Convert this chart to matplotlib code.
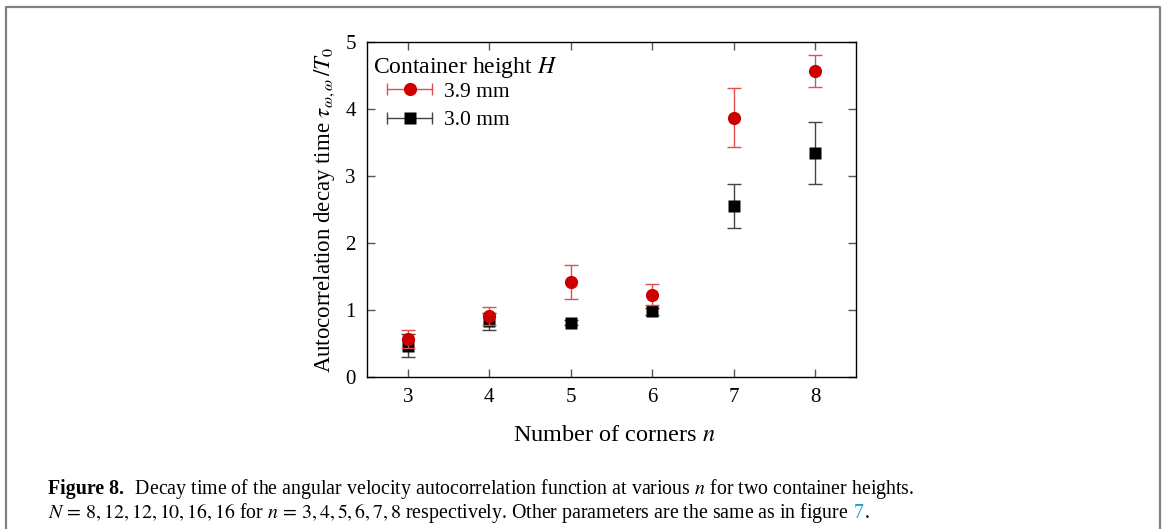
import numpy as np
import matplotlib
matplotlib.use('Agg')
import matplotlib.pyplot as plt
from matplotlib.lines import Line2D
from matplotlib.legend_handler import HandlerBase
from matplotlib.container import ErrorbarContainer

plt.rcParams['font.family'] = ['Liberation Serif', 'DejaVu Serif']
plt.rcParams['mathtext.fontset'] = 'stix'

# Number of corners
corners = [3, 4, 5, 6, 7, 8]

# Decay time tau/T0 and its error, container height 3.9 mm
tau_39 = [0.57, 0.91, 1.42, 1.23, 3.87, 4.57]
err_39 = [0.13, 0.14, 0.25, 0.16, 0.44, 0.24]

# Decay time tau/T0 and its error, container height 3.0 mm
tau_30 = [0.47, 0.83, 0.81, 0.98, 2.55, 3.34]
err_30 = [0.17, 0.13, 0.04, 0.05, 0.33, 0.46]

red = '#cc0000'
red_err = '#e05050'
black_err = '#444444'


class HorizontalErrHandler(HandlerBase):
    """Legend key drawn as a marker on a capped horizontal bar."""

    def create_artists(self, legend, orig_handle, xdescent, ydescent,
                       width, height, fontsize, trans):
        mline = orig_handle.lines[0]
        ecolor = orig_handle.lines[2][0].get_color()
        y = height / 2 - ydescent
        x0, x1 = -xdescent, width - xdescent
        bar = Line2D([x0, x1], [y, y], color=ecolor, lw=1.0)
        caps = Line2D([x0, x1], [y, y], ls='none', marker='|', ms=8,
                      mew=1.0, color=ecolor)
        mark = Line2D([(x0 + x1) / 2], [y], ls='none',
                      marker=mline.get_marker(), ms=mline.get_markersize(),
                      color=mline.get_markerfacecolor(), mec='none')
        for a in (bar, caps, mark):
            a.set_transform(trans)
        return [bar, caps, mark]


fig = plt.figure(figsize=(11.63, 5.29), dpi=100)
ax = fig.add_axes([0.3156, 0.2873, 0.4204, 0.6333])

h39 = ax.errorbar(corners, tau_39, yerr=err_39, fmt='o', color=red, ms=9.5,
                  mec='none', ecolor=red_err, elinewidth=1.0, capsize=5,
                  capthick=1.0, label='3.9 mm', zorder=3)
h30 = ax.errorbar(corners, tau_30, yerr=err_30, fmt='s', color='black', ms=8.5,
                  mec='none', ecolor=black_err, elinewidth=1.0, capsize=5,
                  capthick=1.0, label='3.0 mm', zorder=2)

ax.set_xlim(2.5, 8.5)
ax.set_ylim(0, 5)
ax.set_xticks(corners)
ax.set_yticks(np.arange(0, 6))
ax.tick_params(direction='in', length=6, width=1.0, color='#555555',
               top=True, right=True, labelsize=15, pad=8)
for s in ax.spines.values():
    s.set_linewidth(1.0)

ax.set_xlabel('Number of corners $n$', fontsize=17.5)
ax.xaxis.set_label_coords(0.505, -0.142)
ax.set_ylabel(r'Autocorrelation decay time $\tau_{\omega,\omega}\,/T_0$', fontsize=16.5)
ax.yaxis.set_label_coords(-0.061, 0.5)

# Legend title sits left of the indented entries
ax.text(0.012, 0.925, 'Container height $H$', transform=ax.transAxes,
        fontsize=17, ha='left', va='center')
leg = ax.legend(handles=[h39, h30], loc='upper left', bbox_to_anchor=(0.041, 0.881),
                frameon=False, fontsize=15.5, handlelength=2.1, handletextpad=0.55,
                labelspacing=0.38, borderaxespad=0, borderpad=0,
                handler_map={ErrorbarContainer: HorizontalErrHandler()})

# Caption frame (open at the bottom)
fig.add_artist(Line2D([0.0055, 0.0055, 0.9975, 0.9975], [0.0, 0.987, 0.987, 0.0],
                      transform=fig.transFigure, color='#808080', lw=1.6))


def put_line(pieces, x, y, size=14.3):
    renderer = fig.canvas.get_renderer()
    for text, weight, color in pieces:
        t = fig.text(x, y, text, fontsize=size, fontweight=weight, color=color,
                     ha='left', va='baseline')
        bb = t.get_window_extent(renderer=renderer)
        x = (bb.x1 + 1) / fig.bbox.width
    return x


put_line([('Figure 8.', 'bold', 'black'),
          ('  Decay time of the angular velocity autocorrelation function at various $n$ '
           'for two container heights.', 'normal', 'black')],
         0.041, 1 - 494 / 529)
put_line([(r'$N\,=\,8, 12, 12, 10, 16, 16$ for $n\,=\,3, 4, 5, 6, 7, 8$ respectively. '
           'Other parameters are the same as in figure', 'normal', 'black'),
          (' 7', 'normal', '#1e9bd7'),
          ('.', 'normal', 'black')],
         0.041, 1 - 518 / 529)

fig.savefig('out.png', dpi=100)
